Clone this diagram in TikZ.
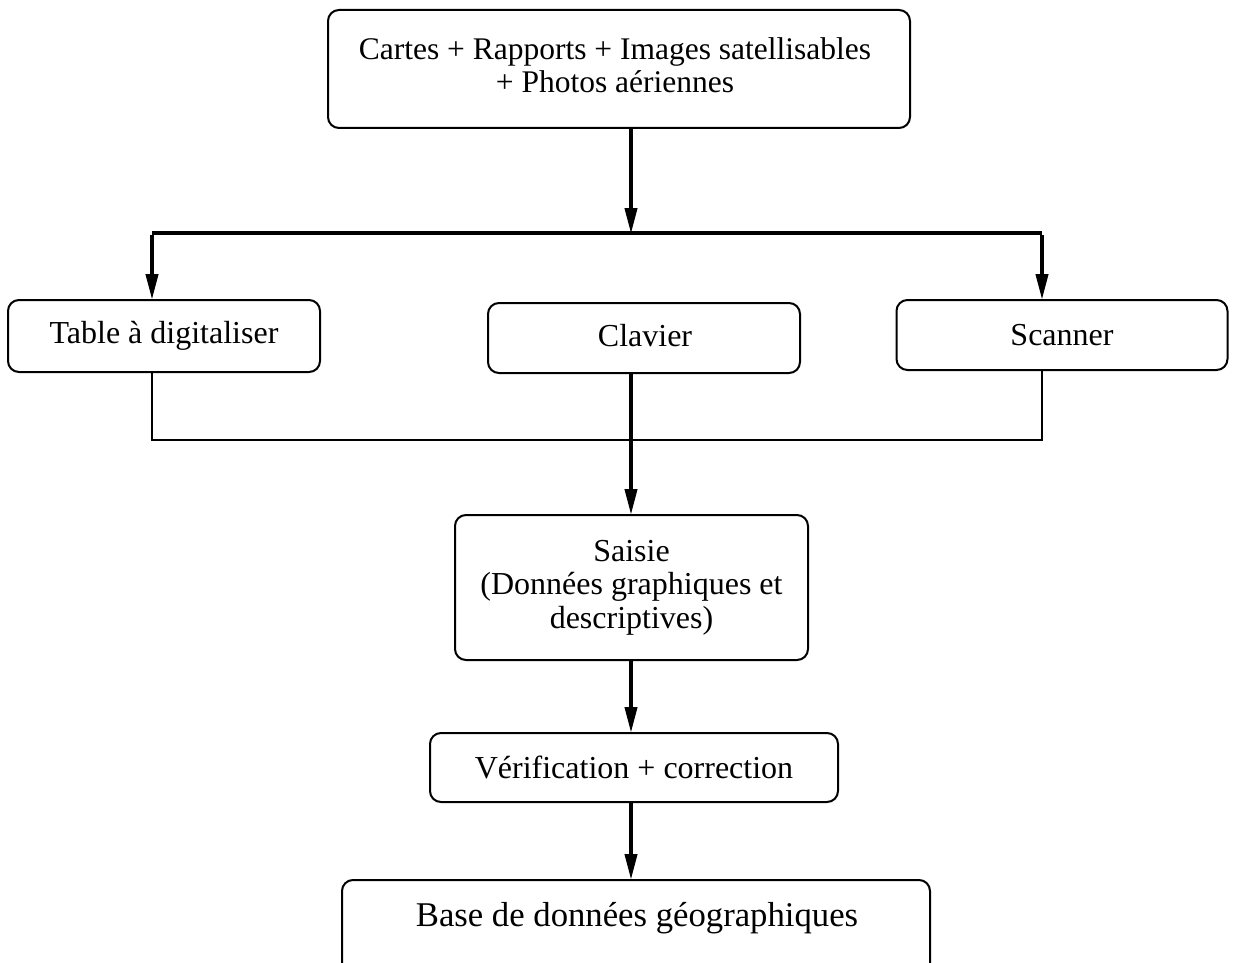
\documentclass[tikz,border=0pt]{standalone}
\usepackage{fontspec}
\setmainfont{Liberation Serif}
\usetikzlibrary{arrows.meta}
\begin{document}
\begin{tikzpicture}[x=1pt,y=-1pt,
  box/.style={draw=black, line width=2pt, rounded corners=11pt, inner sep=0pt,
    align=center, font=\fontsize{32}{33.5}\selectfont},
  txt/.style={inner sep=0pt, align=center, font=\fontsize{32}{33.5}\selectfont},
  flow/.style={line width=4pt, -{Triangle[length=26pt,width=12pt]}, shorten >=-1pt},
  bar/.style={line width=4pt},
  thinbar/.style={line width=2.8pt}]
\useasboundingbox (0,0) rectangle (1234,963);
\begin{scope}
\clip (0,0) rectangle (1234,963);

% boxes
\node[box, minimum width=582pt, minimum height=118pt,
  font=\fontsize{31.5}{32.5}\selectfont] (src) at (619,69) {};
\node[txt, font=\fontsize{31.5}{32.5}\selectfont] at (615,65)
  {Cartes + Rapports + Images satellisables\\+ Photos aériennes};
\node[box, minimum width=312pt, minimum height=72pt] (table) at (164,336)
  {Table à digitaliser};
\node[box, minimum width=312pt, minimum height=70pt] (clav) at (644,338) {};
\node[txt] at (645,336) {Clavier};
\node[box, minimum width=331pt, minimum height=70pt] (scan) at (1062,335)
  {Scanner};
\node[box, minimum width=353pt, minimum height=145pt] (saisie) at (631.5,587.5)
  {Saisie\\(Données graphiques et\\descriptives)};
\node[box, minimum width=408pt, minimum height=69pt] (verif) at (634,767.5)
  {Vérification + correction};
\node[box, minimum width=588pt, minimum height=120pt] (base) at (636,940) {};
\node[txt, font=\fontsize{34.7}{36}\selectfont] at (637,918)
  {Base de données géographiques};

% connection points
\coordinate (split) at (631,233);
\coordinate (splitL) at (152,233);
\coordinate (splitR) at (1042,233);
\coordinate (joinL) at (152,440);
\coordinate (joinR) at (1042,440);
\coordinate (join) at (631,440);

% distribution to the three input devices
\draw[flow] (src.south -| split) -- (split);
\draw[bar] (splitL) -- (splitR);
\draw[flow] ([yshift=-2pt]splitL) -- (table.north -| splitL);
\draw[flow] ([yshift=-2pt]splitR) -- (scan.north -| splitR);

% gathering of the three inputs
\draw[thinbar] (table.south -| joinL) -- (joinL) -- (joinR) -- (scan.south -| joinR);
\draw[flow] (clav.south -| join) -- (saisie.north -| join);

% processing chain
\draw[flow] (saisie.south -| join) -- (verif.north -| join);
\draw[flow] (verif.south -| join) -- (base.north -| join);
\end{scope}
\end{tikzpicture}
\end{document}
